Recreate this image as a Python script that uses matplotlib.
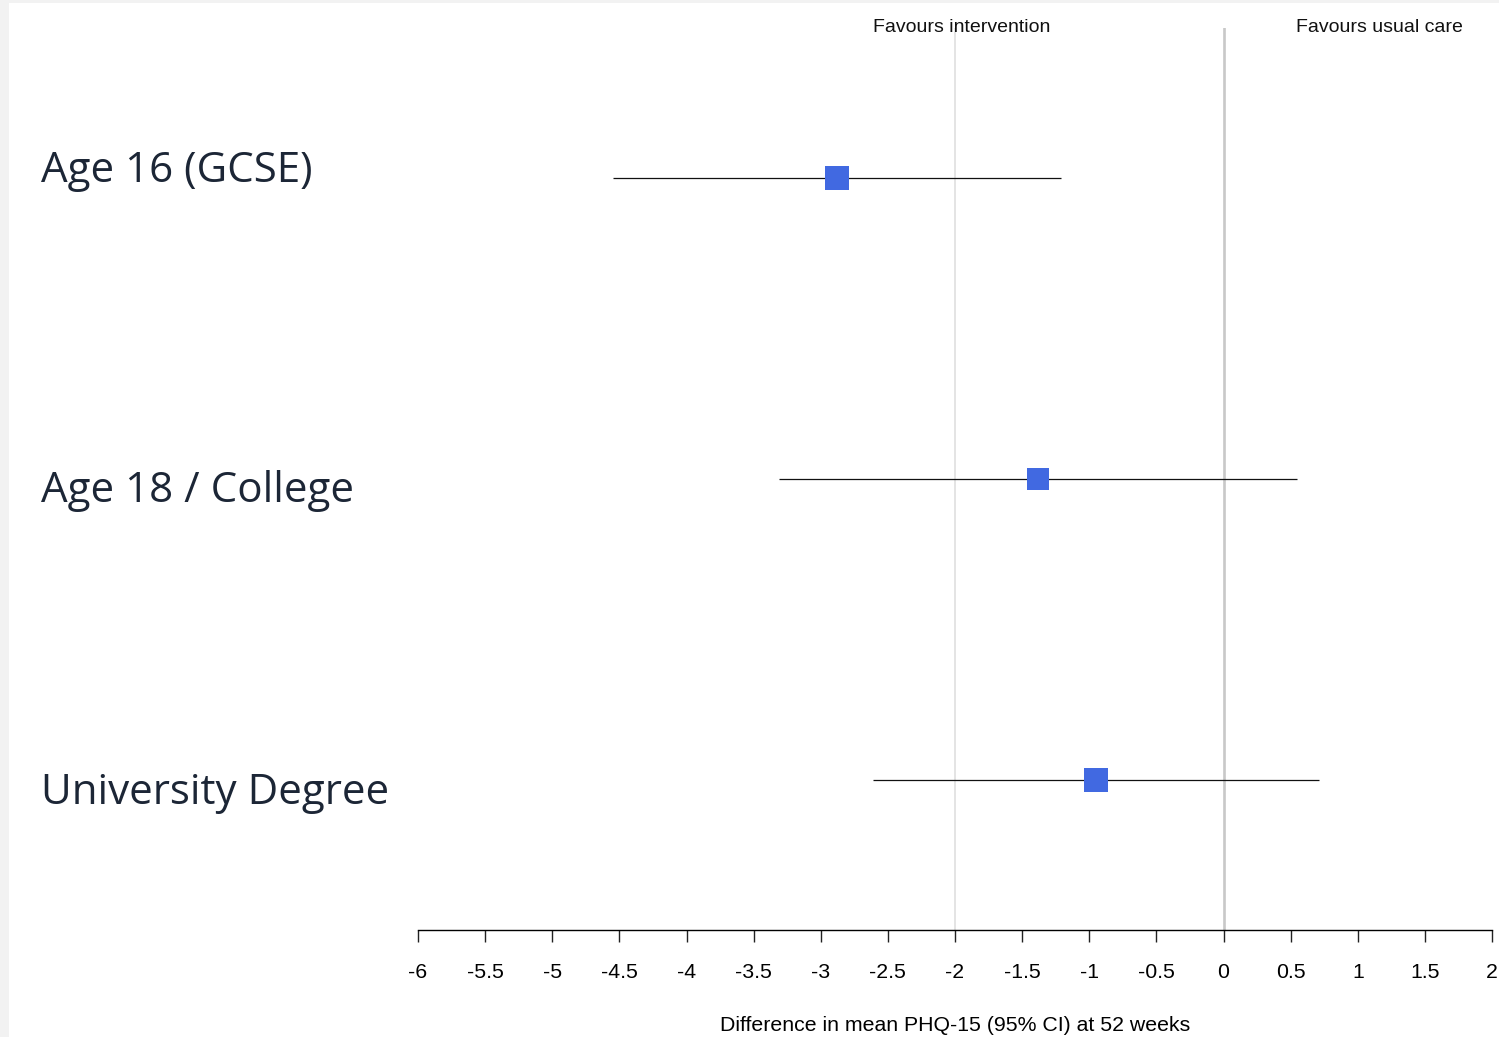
import matplotlib
matplotlib.use("Agg")
import matplotlib.pyplot as plt
import matplotlib.transforms as mtransforms
from matplotlib.patches import Rectangle

# Subgroups (education level) and effect estimates
groups = ["Age 16 (GCSE)", "Age 18 / College", "University Degree"]
estimates = [-2.88, -1.38, -0.95]
ci_lower = [-4.55, -3.31, -2.61]
ci_upper = [-1.21, 0.55, 0.71]
marker_sizes = [17.3, 15.8, 17.6]  # square side in points (weights)

xticks = [-6, -5.5, -5, -4.5, -4, -3.5, -3, -2.5, -2, -1.5, -1, -0.5, 0, 0.5, 1, 1.5, 2]
xtick_labels = ["-6", "-5.5", "-5", "-4.5", "-4", "-3.5", "-3", "-2.5", "-2",
                "-1.5", "-1", "-0.5", "0", "0.5", "1", "1.5", "2"]
x_label = "Difference in mean PHQ-15 (95% CI) at 52 weeks"
left_note = "Favours intervention"
right_note = "Favours usual care"

W, H = 1499, 1037
fig = plt.figure(figsize=(W / 100, H / 100), dpi=100)
fig.patch.set_facecolor("#f2f2f2")
fig.patches.append(Rectangle((9 / W, 0), 1 - 9 / W, 1 - 3 / H,
                             transform=fig.transFigure, facecolor="white",
                             edgecolor="none", zorder=-1))

ax = fig.add_axes([418 / W, 1 - 930 / H, (1492 - 418) / W, (930 - 28) / H])
ax.set_facecolor("none")
ax.set_xlim(-6, 2)
ax.set_ylim(0.5, 3.5)

rows = [3, 2, 1]

# Reference lines
ax.axvline(-2, color="#dcdcdc", lw=1.1, zorder=1)
ax.axvline(0, color="#c8c8c8", lw=1.9, zorder=1)

for y, est, lo, hi, ms in zip(rows, estimates, ci_lower, ci_upper, marker_sizes):
    ax.plot([lo, hi], [y, y], color="#111111", lw=0.9, zorder=2,
            solid_capstyle="butt")
    ax.plot([est], [y], marker="s", color="#4169e1", markersize=ms,
            markeredgewidth=0, linestyle="none", zorder=3)

for s in ["top", "left", "right"]:
    ax.spines[s].set_visible(False)
ax.spines["bottom"].set_linewidth(1.0)
ax.set_yticks([])
ax.set_xticks(xticks)
ax.set_xticklabels(xtick_labels, fontfamily="Liberation Sans", fontsize=15.3)
ax.tick_params(axis="x", direction="out", length=8.5, width=1.0, pad=15,
               color="#222222")
ax.set_xlabel(x_label, fontfamily="Liberation Sans", fontsize=15.3, labelpad=25)

# Subgroup names on the left
trans = mtransforms.blended_transform_factory(fig.transFigure, ax.transData)
label_offsets = [7, -12, -13]  # pixels, upward shift relative to the row
for y, name, off in zip(rows, groups, label_offsets):
    t = mtransforms.offset_copy(trans, fig=fig, x=0, y=off, units="dots")
    fig.text(41 / W, y, name, transform=t, fontfamily="Open Sans",
             fontsize=30.3, color="#1c2636", va="center", ha="left")

# Direction annotations
fig.text(962 / W, 1 - 27 / H, left_note, fontfamily="Liberation Sans",
         fontsize=14, ha="center", va="center", color="#111111")
fig.text(1379 / W, 1 - 27 / H, right_note, fontfamily="Liberation Sans",
         fontsize=14, ha="center", va="center", color="#111111")

fig.savefig("out.png", dpi=100, facecolor=fig.get_facecolor())
